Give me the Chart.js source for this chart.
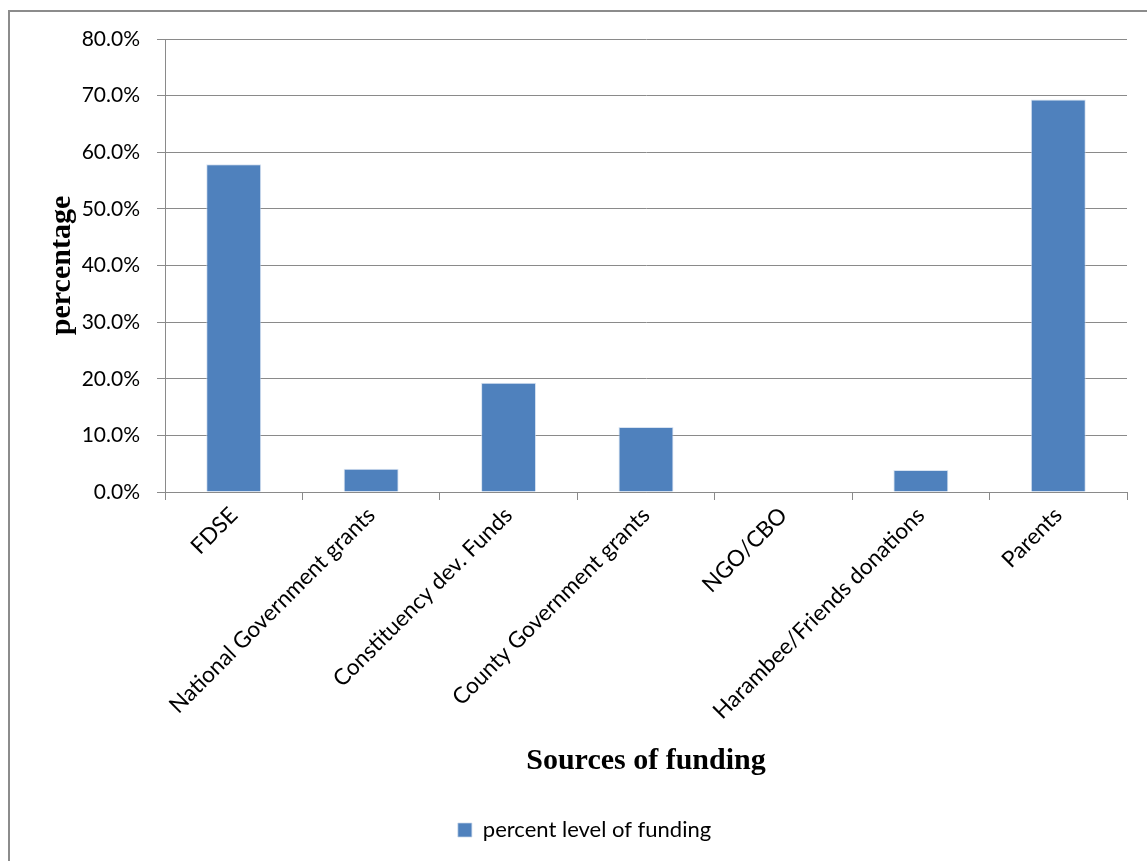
<!DOCTYPE html>
<html>
<head>
<meta charset="utf-8">
<script src="https://cdn.jsdelivr.net/npm/chart.js@4/dist/chart.umd.min.js"></script>
<style>
  html, body { margin: 0; padding: 0; background: #fff; overflow: hidden; }
  #frame {
    position: absolute; left: 8px; top: 10px; width: 1200px; height: 900px;
    border-left: 2px solid #8c8c8c; border-top: 2px solid #8c8c8c;
  }
  #wrap { position: absolute; left: 0; top: 0; width: 1147px; height: 861px; }
</style>
</head>
<body>
<div id="frame"></div>
<div id="wrap"><canvas id="chart"></canvas></div>
<script>
  const sources = [
    'FDSE',
    'National Government grants',
    'Constituency dev. Funds',
    'County Government grants',
    'NGO/CBO',
    'Harambee/Friends donations',
    'Parents'
  ];
  const fundingLevel = [57.9, 4.1, 19.3, 11.5, 0, 3.9, 69.3];
  const yMax = 80;
  const yStep = 10;

  const gridGrey = '#8a8a8a';
  const labelFont = 'Lato, "Open Sans", sans-serif';
  const titleFont = '"Liberation Serif", "DejaVu Serif", serif';

  // legend sits a little right of centre in the original
  const legendShift = {
    id: 'legendShift',
    afterLayout(chart) {
      chart.legend.left += 21;
      chart.legend.right += 21;
    }
  };

  const ctx = document.getElementById('chart').getContext('2d');
  new Chart(ctx, {
    type: 'bar',
    data: {
      labels: sources,
      datasets: [{
        label: 'percent level of funding',
        data: fundingLevel,
        backgroundColor: '#4f81bd',
        borderColor: 'rgba(200, 215, 235, 0.7)',
        borderWidth: 1,
        categoryPercentage: 1.0,
        barPercentage: 0.4
      }]
    },
    options: {
      responsive: true,
      maintainAspectRatio: false,
      animation: false,
      layout: { padding: { left: 0, right: 20, top: 39, bottom: 10 } },
      plugins: {
        legend: {
          position: 'bottom',
          labels: {
            boxWidth: 14,
            boxHeight: 14,
            padding: 10,
            color: '#000',
            font: { family: labelFont, size: 22 }
          }
        },
        tooltip: { enabled: false }
      },
      scales: {
        x: {
          afterFit: (scale) => { scale.height = 317; },
          grid: {
            drawOnChartArea: false,
            drawTicks: true,
            tickLength: 8,
            color: gridGrey
          },
          border: { color: gridGrey, width: 1 },
          ticks: {
            minRotation: 45,
            maxRotation: 45,
            autoSkip: false,
            padding: 2,
            color: '#000',
            font: { family: labelFont, size: 22.5 }
          },
          title: {
            display: true,
            text: 'Sources of funding',
            color: '#000',
            padding: { top: 0, bottom: 30 },
            font: { family: titleFont, size: 30, weight: 'bold' }
          }
        },
        y: {
          min: 0,
          max: yMax,
          afterFit: (scale) => { scale.width = 165; },
          grid: { color: gridGrey, tickLength: 8 },
          border: { color: gridGrey, width: 1 },
          ticks: {
            stepSize: yStep,
            padding: 17,
            color: '#000',
            font: { family: labelFont, size: 21 },
            callback: (v) => v.toFixed(1) + '%'
          },
          title: {
            display: true,
            text: 'percentage',
            color: '#000',
            padding: { top: 44, bottom: 0 },
            font: { family: titleFont, size: 30, weight: 'bold' }
          }
        }
      }
    },
    plugins: [legendShift]
  });
</script>
</body>
</html>
